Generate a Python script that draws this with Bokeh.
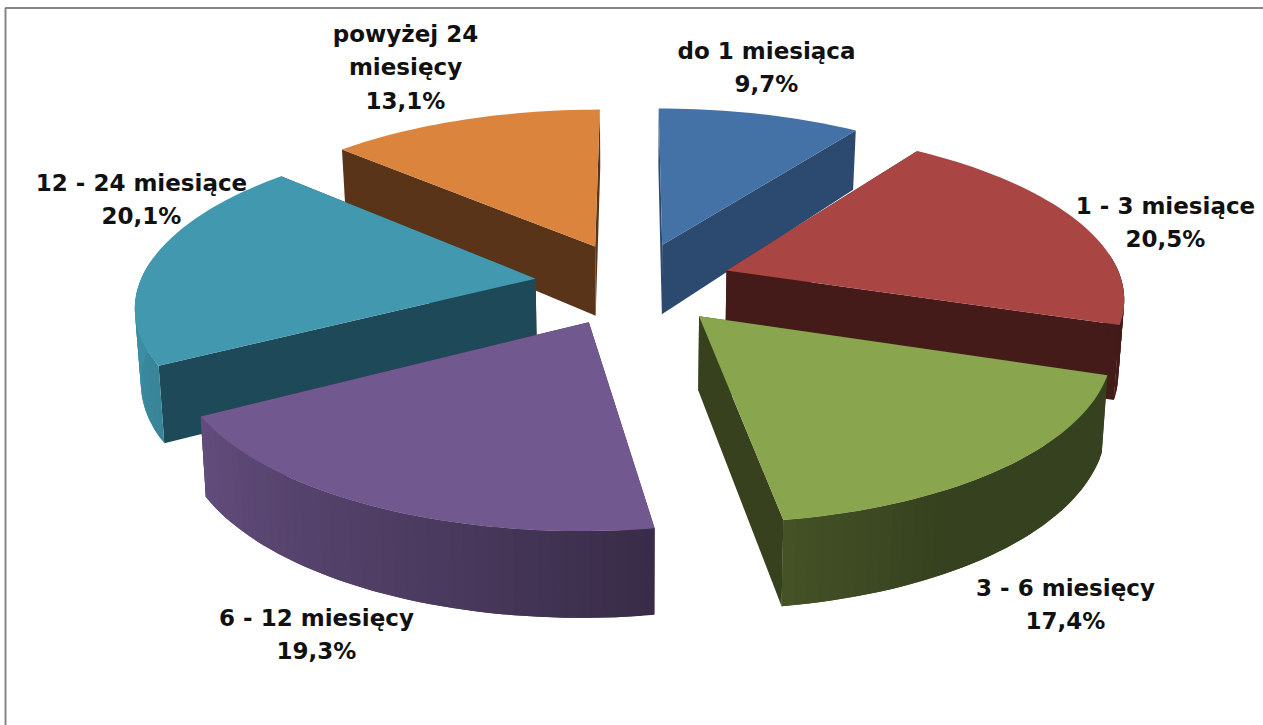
import numpy as np
from bokeh.plotting import figure
from bokeh.models import ColumnDataSource
from bokeh.core.properties import value
from bokeh.embed import file_html
from bokeh.resources import INLINE

# --- data ---
categories = ["do 1 miesiąca", "1 - 3 miesiące", "3 - 6 miesięcy",
              "6 - 12 miesięcy", "12 - 24 miesiące", "powyżej 24 miesięcy"]
shares = [9.7, 20.5, 17.4, 19.3, 20.1, 13.1]
share_labels = ["9,7%", "20,5%", "17,4%", "19,3%", "20,1%", "13,1%"]
top_colors = ["#4471A6", "#A94543", "#89A54E", "#71588F", "#4198AF", "#DB843D"]
wall_colors = ["#2C4A70", "#451B1A", "#37411D", "#3A2A4A", "#1E4958", "#5A3418"]

# --- layout of the 3D view (page pixels) ---
CX, CY = 633.0, 283.0
RX, RY = 396.0, 166.5
PERSP = 0.144
EXPLODE = 0.25
DEPTH, DEPTH_SLOPE = 72.0, 12.0
BOTTOM_SHRINK = 0.988
ANGLE_STOPS = [0, 150, 171, 200, 240, 262, 360]
SHADE_STOPS = [0.40, 0.40, 0.50, 0.68, 0.87, 0.94, 0.94]
LABEL_POS = [(766, 50), (1165, 205), (1065, 587), (316, 617), (141, 182), (405, 33)]
LINE_STEP = 33.5


def project(bis, r, th):
    X = EXPLODE * np.sin(bis) + r * np.sin(th)
    Z = EXPLODE * np.cos(bis) + r * np.cos(th)
    s = 1.0 / (1.0 + PERSP * Z)
    x = CX + RX * X * s
    y = CY - RY * Z * s
    xb = CX + (x - CX) * BOTTOM_SHRINK
    yb = y + DEPTH - DEPTH_SLOPE * Z
    return x, y, xb, yb


def shade(hex_color, f):
    r, g, b = (int(hex_color[i:i + 2], 16) for i in (1, 3, 5))
    return "#%02x%02x%02x" % (int(r * f), int(g * f), int(b * f))


xs, ys, fills = [], [], []


def add(px, py, color):
    xs.append(list(px))
    ys.append(list(py))
    fills.append(color)


edges = np.cumsum([0.0] + shares) / sum(shares) * 2 * np.pi
bisectors = (edges[:-1] + edges[1:]) / 2
order = sorted(range(len(shares)), key=lambda i: -np.cos(bisectors[i]))

for i in order:
    a0, a1, b = edges[i], edges[i + 1], bisectors[i]
    n = max(8, int(np.degrees(a1 - a0) / 1.5))
    th = np.linspace(a0, a1, n)
    x, y, xb, yb = project(b, 1.0, th)
    tx, ty, txb, tyb = project(b, 0.0, 0.0)
    # radial walls
    for k in (0, -1):
        add([tx, x[k], xb[k], txb], [ty, y[k], yb[k], tyb], wall_colors[i])
    # outer rim, only where it faces the viewer; strips overlap to avoid seams
    for j in range(n - 1):
        if np.cos((th[j] + th[j + 1]) / 2) > 0.1:
            continue
        e = min(j + 2, n - 1)
        f = float(np.interp(np.degrees((th[j] + th[j + 1]) / 2), ANGLE_STOPS, SHADE_STOPS))
        add([x[j], x[j + 1], x[e], xb[e], xb[j + 1], xb[j]],
            [y[j], y[j + 1], y[e], yb[e], yb[j + 1], yb[j]],
            shade(top_colors[i], f))
    # top face
    add(np.r_[tx, x], np.r_[ty, y], top_colors[i])

p = figure(width=1263, height=725, x_range=(0, 1263), y_range=(725, 0),
           x_axis_type=None, y_axis_type=None, toolbar_location=None,
           output_backend="svg", min_border=0, outline_line_color=None,
           background_fill_color="white", border_fill_color="white")
p.grid.visible = False

# chart frame
p.line([5, 5, 1263], [725, 7.5, 7.5], line_color="#868686", line_width=2)

p.patches("xs", "ys", source=ColumnDataSource(dict(xs=xs, ys=ys, fill=fills)),
          fill_color="fill", line_color=None)

tx_, ty_, tt_ = [], [], []
for i, (name, pct) in enumerate(zip(categories, share_labels)):
    lines = [name, pct]
    if name.startswith("powyżej"):
        lines = ["powyżej 24", "miesięcy", pct]
    lx, ly = LABEL_POS[i]
    for j, line in enumerate(lines):
        tx_.append(lx)
        ty_.append(ly + j * LINE_STEP)
        tt_.append(line)

p.text("x", "y", "t", source=ColumnDataSource(dict(x=tx_, y=ty_, t=tt_)),
       text_font=value("DejaVu Sans"), text_font_style="bold", text_font_size="23px",
       text_color="#111111", text_align="center", text_baseline="middle")

open("out.html", "w").write(file_html(p, INLINE))
